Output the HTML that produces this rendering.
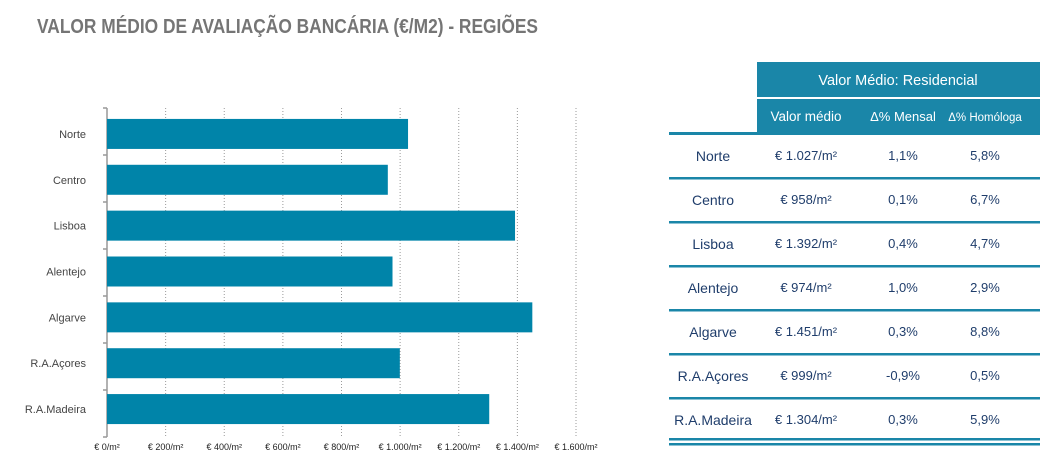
<!DOCTYPE html>
<html><head><meta charset="utf-8"><style>
body{margin:0;background:#fff;}
svg{display:block;font-family:"Liberation Sans",sans-serif;}
</style></head><body>
<svg id="s" width="1056" height="472" viewBox="0 0 1056 472">
<text x="37" y="33" font-size="20" font-weight="bold" fill="#757575" textLength="501" lengthAdjust="spacingAndGlyphs">VALOR MÉDIO DE AVALIAÇÃO BANCÁRIA (€/M2) - REGIÕES</text>
<g id="plot"></g>
<g id="tbl"></g>
</svg>
<script>
const categories=["Norte","Centro","Lisboa","Alentejo","Algarve","R.A.Açores","R.A.Madeira"];
const values=[1027,958,1392,974,1451,999,1304];
const ticks=[0,200,400,600,800,1000,1200,1400,1600];
const tickLabels=["€ 0/m²","€ 200/m²","€ 400/m²","€ 600/m²","€ 800/m²","€ 1.000/m²","€ 1.200/m²","€ 1.400/m²","€ 1.600/m²"];
const valueLabels=["€ 1.027/m²","€ 958/m²","€ 1.392/m²","€ 974/m²","€ 1.451/m²","€ 999/m²","€ 1.304/m²"];
const mensal=["1,1%","0,1%","0,4%","1,0%","0,3%","-0,9%","0,3%"];
const homologa=["5,8%","6,7%","4,7%","2,9%","8,8%","0,5%","5,9%"];

const NS="http://www.w3.org/2000/svg";
function mk(tag,attrs,parent,text){const e=document.createElementNS(NS,tag);for(const k in attrs)e.setAttribute(k,attrs[k]);if(text!=null)e.textContent=text;parent.appendChild(e);return e;}
const x0=107,x1=576,yTop=111,yBot=432;
const xs=v=>x0+(v/1600)*(x1-x0);
const band=(yBot-yTop)/categories.length;
const plot=document.getElementById('plot');
ticks.forEach((t,i)=>{
 if(i>0){const g=mk('line',{x1:xs(t),x2:xs(t),y1:108,y2:437,stroke:'#9a9a9a','stroke-dasharray':'1,2','stroke-width':1},plot);
 
 }
 const l=mk('text',{x:xs(t),y:450,'font-size':9,fill:'#222','text-anchor':'middle'},plot,tickLabels[i]);
 
 
});
const ax=mk('line',{x1:x0,x2:x0,y1:108,y2:437,stroke:'#999','stroke-width':1.5},plot);


for(let i=0;i<=categories.length;i++){const yy=108+i*(437-108)/categories.length;mk('line',{x1:x0-4,x2:x0,y1:yy,y2:yy,stroke:'#999','stroke-width':1.5},plot);}
categories.forEach((c,i)=>{
 const yc=yTop+band*(i+0.5);
 const b=mk('rect',{x:x0,y:yc-15,width:xs(values[i])-x0,height:30,fill:'#0084a9'},plot);
 
 
 const l=mk('text',{x:86,y:yc+4,'font-size':11,fill:'#444','text-anchor':'end'},plot,c);
 
 
});
// table
const t=document.getElementById('tbl');
const teal='#1a86a8';
mk('rect',{x:757,y:62,width:283,height:35,fill:teal},t);
mk('rect',{x:757,y:99,width:283,height:34,fill:teal},t);
let h=mk('text',{x:898,y:85,'font-size':14.5,fill:'#fff','text-anchor':'middle'},t,'Valor Médio: Residencial');


[[806,'Valor médio',13.5],[903,'Δ% Mensal',13],[985,'Δ% Homóloga',11.5]].forEach(([x,s,f])=>{
 const e=mk('text',{x:x,y:121,'font-size':f,fill:'#fff','text-anchor':'middle'},t,s);
 
 
});
mk('rect',{x:669,y:132,width:371,height:3,fill:teal},t);
const rowH=44;
categories.forEach((c,i)=>{
 const yc=157+i*rowH;
 const cells=[[713,c,14],[806,valueLabels[i],13],[903,mensal[i],13],[985,homologa[i],13]];
 cells.forEach(([x,s,f],j)=>{
  const e=mk('text',{x:x,y:yc+4-(j>0?1:0),'font-size':f,fill:'#1f3d6b','text-anchor':'middle'},t,s);
  
  
 });
 if(i<categories.length-1) mk('rect',{x:669,y:177+i*rowH,width:371,height:2.5,fill:teal},t);
});
mk('rect',{x:669,y:438,width:371,height:2.5,fill:teal},t);
mk('rect',{x:669,y:443,width:371,height:2.5,fill:teal},t);
</script>
</body></html>
